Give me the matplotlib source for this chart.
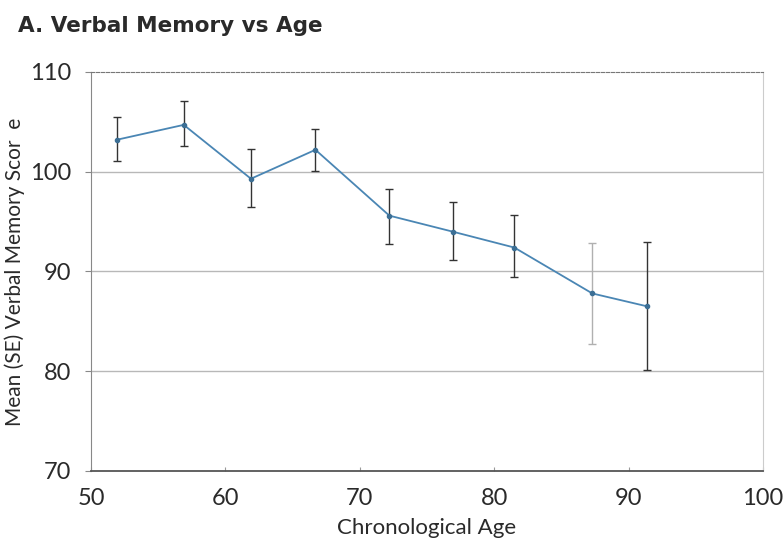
import numpy as np
import matplotlib
matplotlib.use("Agg")
import matplotlib.pyplot as plt

plt.rcParams['font.family'] = ['Lato', 'DejaVu Sans']

# Mean verbal memory score per age group, with SE bar ends
ages = [51.9, 56.9, 61.9, 66.7, 72.2, 76.9, 81.5, 87.3, 91.4]
means = [103.2, 104.7, 99.3, 102.2, 95.6, 94.0, 92.4, 87.8, 86.5]
err_top = [105.5, 107.1, 102.3, 104.3, 98.3, 97.0, 95.7, 92.9, 93.0]
err_bottom = [101.1, 102.6, 96.5, 100.1, 92.8, 91.2, 89.4, 82.7, 80.1]

x_ticks = [50, 60, 70, 80, 90, 100]
y_ticks = [70, 80, 90, 100, 110]

means_arr = np.array(means)
yerr = [means_arr - np.array(err_bottom), np.array(err_top) - means_arr]

fig = plt.figure(figsize=(7.83, 5.46), dpi=100)
ax = fig.add_axes([91 / 783, 1 - 471 / 546, (763 - 91) / 783, (471 - 72) / 546])

# grid lines
for yv in [80, 90, 100]:
    ax.axhline(yv, color='#b8b8b8', linewidth=1.0, zorder=0)

# error bars (the one at 87 looks faded in the original)
for i in range(len(ages)):
    col = '#b0b0b0' if i == 7 else '#333333'
    ax.errorbar(ages[i], means[i], yerr=[[yerr[0][i]], [yerr[1][i]]],
                fmt='none', ecolor=col, elinewidth=1.0, capsize=3, capthick=1.0, zorder=2)

ax.plot(ages, means, '-', color='#4a86b4', linewidth=1.3, zorder=3)
ax.plot(ages, means, 'o', color='#3c6f95', markersize=3, zorder=4)

ax.set_xlim(50, 100)
ax.set_ylim(70, 110)
ax.set_xticks(x_ticks)
ax.set_yticks(y_ticks)
ax.tick_params(axis='y', direction='out', length=4, color='#888888', labelsize=17,
               labelcolor='#2a2a2a', pad=10)
ax.tick_params(axis='x', direction='in', length=3, color='#999999', labelsize=17,
               labelcolor='#2a2a2a', pad=12)

ax.spines['top'].set_linestyle((0, (3, 1.5)))
ax.spines['top'].set_color('#777777')
ax.spines['bottom'].set_linestyle((0, (3, 1)))
ax.spines['bottom'].set_color('#555555')
ax.spines['bottom'].set_linewidth(1.3)
ax.spines['left'].set_color('#888888')
ax.spines['right'].set_color('#cccccc')

ax.set_xlabel('Chronological Age', fontsize=16, color='#2a2a2a', labelpad=7)
ax.set_ylabel('Mean (SE) Verbal Memory Scor  e', fontsize=15, color='#2a2a2a', labelpad=4)

fig.text(18 / 783, 1 - 26 / 546, 'A. Verbal Memory vs Age', fontsize=15.5, fontweight='bold',
         family=['DejaVu Sans'], color='#2a2a2a', ha='left', va='center')

fig.savefig('out.png', dpi=100)
